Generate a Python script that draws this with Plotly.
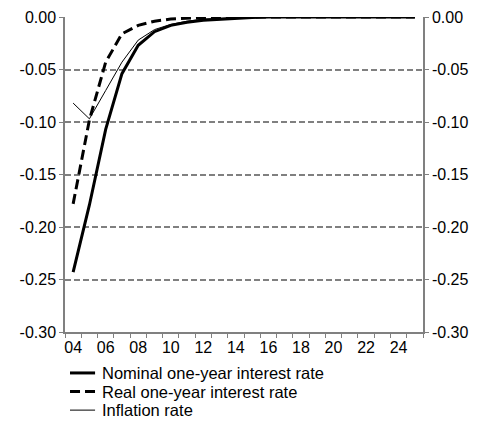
import plotly.graph_objects as go

# years 2004..2025, shown as two-digit labels
years = list(range(4, 26))
tick_years = list(range(4, 25, 2))
tick_labels = ["%02d" % y for y in tick_years]

nominal = [-0.243, -0.179, -0.107, -0.054, -0.027, -0.014, -0.008, -0.005,
           -0.003, -0.002, -0.001, -0.0005, 0, 0, 0, 0, 0, 0, 0, 0, 0, 0]
real = [-0.178, -0.098, -0.043, -0.016, -0.008, -0.004, -0.002, -0.001,
        -0.0005, 0, 0, 0, 0, 0, 0, 0, 0, 0, 0, 0, 0, 0]
inflation = [-0.082, -0.097, -0.070, -0.043, -0.022, -0.012, -0.007, -0.004,
             -0.002, -0.001, -0.0005, 0, 0, 0, 0, 0, 0, 0, 0, 0, 0, 0]

yticks = [0, -0.05, -0.10, -0.15, -0.20, -0.25, -0.30]
ytick_labels = ["0.00", "-0.05", "-0.10", "-0.15", "-0.20", "-0.25", "-0.30"]

series = [
    ("Nominal one-year interest rate", nominal, 3, "solid"),
    ("Real one-year interest rate", real, 3, "10px,5px"),
    ("Inflation rate", inflation, 1, "solid"),
]

fig = go.Figure()
for name, vals, w, d in series:
    fig.add_trace(go.Scatter(x=years, y=vals, mode="lines", name=name,
                             line=dict(color="black", width=w, dash=d)))
# invisible trace so the right axis gets drawn
fig.add_trace(go.Scatter(x=years, y=nominal, yaxis="y2", mode="lines",
                         line=dict(color="rgba(0,0,0,0)"), hoverinfo="skip"))

# legend drawn by hand below the plot (plotly's legend pushes the margins)
for i, (name, vals, w, d) in enumerate(series):
    yy = -0.130 - i * 0.059
    fig.add_shape(type="line", xref="paper", yref="paper", x0=0.014, x1=0.084,
                  y0=yy, y1=yy, line=dict(color="black", width=w, dash=d))
    fig.add_annotation(xref="paper", yref="paper", x=0.097, y=yy, text=name,
                       showarrow=False, xanchor="left", yanchor="middle",
                       font=dict(size=16.5))

axis_font = dict(family="Liberation Sans, Arial", size=16, color="black")

# page body adds an 8px margin, so the figure is a bit smaller than the window
fig.update_layout(
    width=479, height=413,
    margin=dict(l=57, r=64, t=9, b=89),
    plot_bgcolor="white", paper_bgcolor="white",
    font=axis_font,
    showlegend=False,
    xaxis=dict(range=[3.5, 25.5], tickvals=tick_years, ticktext=tick_labels,
               showgrid=False, zeroline=False, ticks="", showline=True,
               linecolor="#808080", linewidth=1.5, automargin=False,
               minor=dict(tick0=3.5, dtick=1, ticks="outside", ticklen=4,
                          tickcolor="#808080", showgrid=False)),
    yaxis=dict(range=[-0.30, 0], tickvals=yticks, ticktext=ytick_labels,
               showgrid=True, gridcolor="#808080", griddash="6px,3px", gridwidth=1.5,
               zeroline=False, showline=True, linecolor="#808080", linewidth=1.5,
               ticks="outside", ticklen=4, tickcolor="#808080", automargin=False),
    yaxis2=dict(range=[-0.30, 0], tickvals=yticks, ticktext=ytick_labels,
                overlaying="y", side="right", showgrid=False, zeroline=False,
                showline=True, linecolor="#808080", linewidth=1.5,
                ticks="outside", ticklen=4, tickcolor="#808080", automargin=False),
)

fig.write_html("out.html")
